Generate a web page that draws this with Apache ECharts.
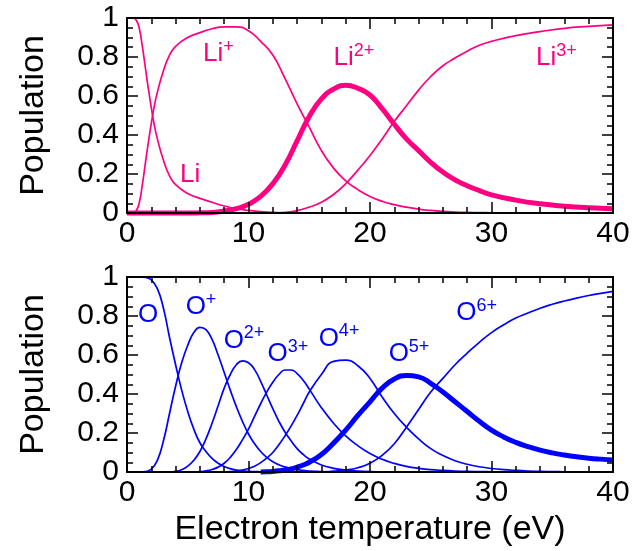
<!DOCTYPE html>
<html>
<head>
<meta charset="utf-8">
<script src="https://cdn.jsdelivr.net/npm/echarts@6/dist/echarts.min.js"></script>
<style>
html,body{margin:0;padding:0;background:#fff;}
#chart{width:643px;height:551px;}
</style>
</head>
<body>
<div id="chart"></div>
<script>
// ---------- data ----------
const xTicks = [0, 10, 20, 30, 40];
const yTicks = [0, 0.2, 0.4, 0.6, 0.8, 1];

// Lithium panel: electron temperature (eV)
const liTemps = [0,0.5,0.75,1,1.25,1.5,1.75,2,2.25,2.5,3,3.5,4,
  5,6,7,8,9,10,11,12,13,14,15,16,17,18,19,20,21,22,23,24,25,26,27,28,29,30,
  32,34,36,38,40];
const li0 = [1,1,0.99,0.95,0.86,0.75,0.64,0.54,0.45,0.38,0.27,0.19,0.145,
  0.10,0.075,0.055,0.036,0.022,0.013,0.007,0.003,0.001,0,0,0,0,0,0,0,0,0,0,0,0,0,0,0,0,0,
  0,0,0,0,0];
const li1 = [0,0,0.01,0.05,0.14,0.25,0.36,0.46,0.55,0.62,0.73,0.81,0.855,
  0.90,0.925,0.945,0.955,0.955,0.935,0.88,0.81,0.69,0.56,0.44,0.32,0.23,0.165,0.12,0.085,0.06,0.043,0.03,0.02,0.013,0.008,0.005,0.003,0.002,0.001,
  0,0,0,0,0];
const li2 = [0,0,0,0,0,0,0,0,0,0,0,0,0,
  0,0.001,0.003,0.01,0.022,0.045,0.085,0.15,0.245,0.37,0.495,0.585,0.635,0.655,0.64,0.605,0.535,0.455,0.38,0.32,0.26,0.21,0.17,0.14,0.115,0.093,
  0.066,0.047,0.035,0.027,0.022];
const li3 = [0,0,0,0,0,0,0,0,0,0,0,0,0,
  0,0,0,0,0,0,0,0,0.003,0.012,0.03,0.055,0.095,0.15,0.22,0.295,0.38,0.47,0.55,0.63,0.70,0.755,0.795,0.83,0.86,0.88,
  0.91,0.93,0.947,0.957,0.965];

// Oxygen panel
const oTemps = [0,1,1.5,2,2.5,3,3.5,4,4.5,5,5.5,6,6.5,7,7.5,8,8.5,9,9.5,10,10.5,11,11.5,12,12.5,13,13.5,14,14.5,15,
  16,17,18,19,20,21,22,23,24,25,26,27,28,29,30,31,32,33,34,35,36,37,38,39,40];
const o0 = [1,1,0.998,0.985,0.94,0.84,0.69,0.55,0.42,0.31,0.22,0.15,0.105,0.07,0.045,0.028,0.017,0.01,0.006,0.003,0.002,0.001,0,0,0,0,0,0,0,0,
  0,0,0,0,0,0,0,0,0,0,0,0,0,0,0,0,0,0,0,0,0,0,0,0,0];
const o1 = [0,0,0.002,0.015,0.06,0.16,0.30,0.44,0.56,0.65,0.715,0.742,0.73,0.68,0.60,0.51,0.42,0.335,0.26,0.195,0.145,0.105,0.075,0.053,0.037,0.026,0.018,0.012,0.008,0.005,
  0.002,0.001,0,0,0,0,0,0,0,0,0,0,0,0,0,0,0,0,0,0,0,0,0,0,0];
const o2 = [0,0,0,0,0,0,0,0.003,0.012,0.03,0.06,0.105,0.17,0.25,0.34,0.43,0.50,0.55,0.57,0.56,0.525,0.465,0.395,0.325,0.26,0.205,0.16,0.12,0.09,0.067,
  0.036,0.019,0.01,0.005,0.002,0.001,0,0,0,0,0,0,0,0,0,0,0,0,0,0,0,0,0,0,0];
const o3 = [0,0,0,0,0,0,0,0,0,0,0,0.002,0.006,0.013,0.025,0.045,0.075,0.115,0.165,0.22,0.285,0.35,0.41,0.46,0.50,0.523,0.523,0.505,0.47,0.425,
  0.33,0.25,0.185,0.135,0.095,0.065,0.044,0.029,0.019,0.012,0.008,0.005,0.003,0.002,0.001,0,0,0,0,0,0,0,0,0,0];
const o4 = [0,0,0,0,0,0,0,0,0,0,0,0,0,0,0,0,0.002,0.005,0.01,0.018,0.03,0.048,0.072,0.10,0.14,0.185,0.235,0.29,0.35,0.41,
  0.50,0.567,0.574,0.545,0.48,0.385,0.30,0.23,0.17,0.12,0.085,0.058,0.04,0.027,0.018,0.012,0.008,0.005,0.003,0.002,0.001,0,0,0,0];
const o5 = [null,null,null,null,null,null,null,null,null,null,null,null,null,null,null,null,null,null,null,null,null,0,0.001,0.003,0.006,0.01,0.016,0.025,0.036,0.05,
  0.09,0.148,0.215,0.29,0.36,0.43,0.477,0.495,0.488,0.455,0.41,0.36,0.31,0.26,0.215,0.18,0.152,0.13,0.112,0.098,0.087,0.078,0.071,0.066,0.062];
const o6 = [0,0,0,0,0,0,0,0,0,0,0,0,0,0,0,0,0,0,0,0,0,0,0,0,0,0,0,0,0,0,
  0,0.004,0.01,0.022,0.045,0.085,0.145,0.23,0.32,0.41,0.48,0.55,0.61,0.665,0.715,0.755,0.79,0.815,0.84,0.86,0.877,0.892,0.905,0.916,0.926];

// species labels: [base, superscript, temperature, population]
const liLabels = [['Li','',5.19,0.20],['Li','+',7.53,0.82],['Li','2+',18.68,0.80],['Li','3+',35.35,0.80]];
const oLabels = [['O','',1.73,0.81],['O','+',6.09,0.85],['O','2+',9.63,0.68],['O','3+',13.25,0.61],
  ['O','4+',17.45,0.69],['O','5+',23.21,0.61],['O','6+',28.77,0.82]];

// ---------- styling ----------
const FONT = '"Liberation Sans", Arial, Helvetica, sans-serif';
const PINK = '#ff0080';
const BLUE = '#0000ff';

function pairs(xs, ys){ return xs.map((x,i)=>[x, ys[i]]); }

function mkXAxis(gridIndex, pos, labels, name){
  return {
    type:'value', gridIndex, position:pos, min:0, max:40, interval:10, z:5,
    axisLine:{show:true, onZero:false, lineStyle:{color:'#000', width:2}},
    axisTick:{show:true, inside:true, length:11, lineStyle:{color:'#000', width:1.5}},
    minorTick:{show:true, splitNumber:5, length:6, lineStyle:{color:'#000', width:1.5}},
    splitLine:{show:false},
    axisLabel:{show:labels, color:'#000', fontSize:30, fontFamily:FONT, margin:6},
    name: name || '', nameLocation:'middle', nameGap:41,
    nameTextStyle:{color:'#000', fontSize:34, fontFamily:FONT}
  };
}
function mkYAxis(gridIndex, pos, labels){
  return {
    type:'value', gridIndex, position:pos, min:0, max:1, interval:0.2, z:5,
    axisLine:{show:true, onZero:false, lineStyle:{color:'#000', width:2}},
    axisTick:{show:true, inside:true, length:11, lineStyle:{color:'#000', width:1.5}},
    minorTick:{show:true, splitNumber:4, length:6, lineStyle:{color:'#000', width:1.5}},
    splitLine:{show:false},
    axisLabel:{show:labels, color:'#000', fontSize:30, fontFamily:FONT, margin:8},
    name: labels ? 'Population' : '', nameLocation:'middle', nameGap:76,
    nameTextStyle:{color:'#000', fontSize:34, fontFamily:FONT}
  };
}

function lineSeries(xi, yi, xs, ys, color, width, label){
  const s = {
    type:'line', xAxisIndex:xi, yAxisIndex:yi, data:pairs(xs, ys),
    showSymbol:false, symbol:'none', smooth:0.5, clip:false, connectNulls:false,
    lineStyle:{color, width}, itemStyle:{color}, z:2, silent:true
  };
  if(label){
    const [base, sup, tx, ty] = label;
    s.markPoint = {
      symbol:'circle', symbolSize:0, silent:true,
      data:[{coord:[tx, ty]}],
      label:{
        show:true, position:'inside',
        formatter: sup ? '{b|' + base + '}{s|' + sup + '}' : '{b|' + base + '}',
        rich:{
          b:{fontSize:26, fontFamily:FONT, color, lineHeight:28, verticalAlign:'bottom'},
          s:{fontSize:18, fontFamily:FONT, color, lineHeight:18, padding:[0,0,11,0], verticalAlign:'bottom'}
        }
      }
    };
  }
  return s;
}

const series = [
  lineSeries(0,0, liTemps, li0, PINK, 1.7, liLabels[0]),
  lineSeries(0,0, liTemps, li1, PINK, 1.7, liLabels[1]),
  lineSeries(0,0, liTemps, li3, PINK, 1.7, liLabels[3]),
  lineSeries(0,0, liTemps, li2, PINK, 5, liLabels[2]),
  lineSeries(2,2, oTemps, o0, BLUE, 1.7, oLabels[0]),
  lineSeries(2,2, oTemps, o1, BLUE, 1.7, oLabels[1]),
  lineSeries(2,2, oTemps, o2, BLUE, 1.7, oLabels[2]),
  lineSeries(2,2, oTemps, o3, BLUE, 1.7, oLabels[3]),
  lineSeries(2,2, oTemps, o4, BLUE, 1.7, oLabels[4]),
  lineSeries(2,2, oTemps, o6, BLUE, 1.7, oLabels[6]),
  lineSeries(2,2, oTemps, o5, BLUE, 5, oLabels[5])
];

const chart = echarts.init(document.getElementById('chart'), null, {renderer:'canvas'});
chart.setOption({
  animation:false,
  backgroundColor:'#fff',
  textStyle:{fontFamily:FONT},
  grid:[
    {left:127, top:18, width:486, height:195},
    {left:127, top:277, width:486, height:195}
  ],
  xAxis:[
    mkXAxis(0,'bottom',true),
    mkXAxis(0,'top',false),
    mkXAxis(1,'bottom',true,'Electron temperature (eV)'),
    mkXAxis(1,'top',false)
  ],
  yAxis:[
    mkYAxis(0,'left',true),
    mkYAxis(0,'right',false),
    mkYAxis(1,'left',true),
    mkYAxis(1,'right',false)
  ],
  series
});
</script>
</body>
</html>
